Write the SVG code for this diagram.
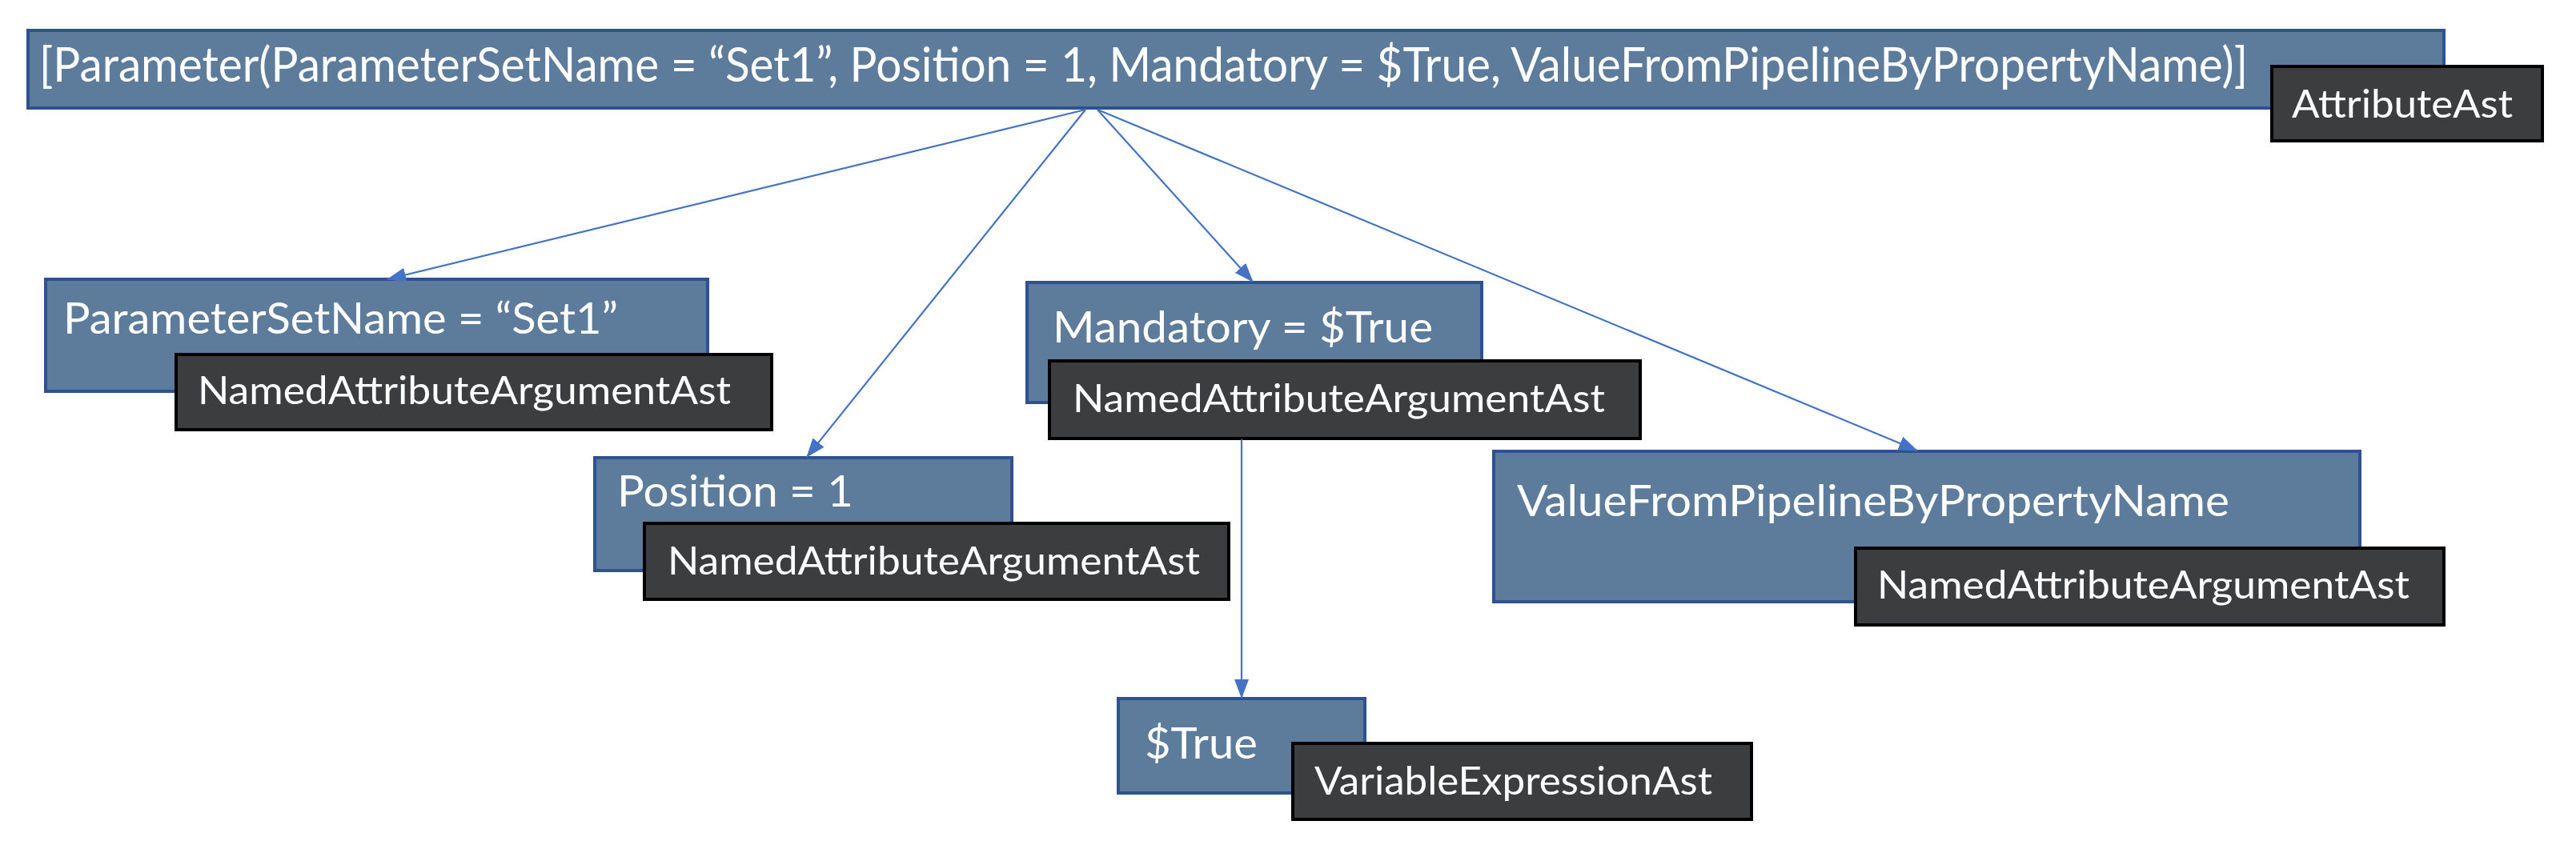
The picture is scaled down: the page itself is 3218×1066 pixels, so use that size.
<svg xmlns="http://www.w3.org/2000/svg" width="3218" height="1066" viewBox="0 0 3218 1066">
<style>
.box{fill:#5D7B9B;stroke:#2F528F;stroke-width:4}
.tag{fill:#3C3D3F;stroke:#000;stroke-width:4}
.t{font-family:Lato,"Open Sans","Liberation Sans",sans-serif;fill:#fff}
.big{font-size:60px}
.nt{font-size:55px}
.lt{font-size:49px}
.con{stroke:#4472C4;stroke-width:2.2;fill:none}
</style>
<defs>
<marker id="arr" markerUnits="userSpaceOnUse" markerWidth="24" markerHeight="18" refX="23" refY="9" orient="auto">
<path d="M0,0 L24,9 L0,18 z" fill="#4472C4"/>
</marker>
</defs>
<rect width="3218" height="1066" fill="#fff"/>
<g id="attribute">
<rect class="box" x="35" y="38" width="3018" height="97"/>
<text class="t big" x="49" y="102" textLength="2759" lengthAdjust="spacingAndGlyphs">[Parameter(ParameterSetName = “Set1”, Position = 1, Mandatory = $True, ValueFromPipelineByPropertyName)]</text>
<rect class="tag" x="2838" y="83" width="338" height="93"/>
<text class="t lt" x="2863" y="147" textLength="276" lengthAdjust="spacingAndGlyphs">AttributeAst</text>
</g>
<g id="paramsetname">
<rect class="box" x="57" y="349" width="827" height="140"/>
<text class="t nt" x="79" y="417" textLength="693" lengthAdjust="spacingAndGlyphs">ParameterSetName = “Set1”</text>
<rect class="tag" x="220" y="443" width="744" height="94"/>
<text class="t lt" x="247" y="505" textLength="666" lengthAdjust="spacingAndGlyphs">NamedAttributeArgumentAst</text>
</g>
<g id="position">
<rect class="box" x="743" y="572" width="521" height="141"/>
<text class="t nt" x="771" y="633" textLength="295" lengthAdjust="spacingAndGlyphs">Position = 1</text>
<rect class="tag" x="805" y="654" width="730" height="95"/>
<text class="t lt" x="834" y="718" textLength="665" lengthAdjust="spacingAndGlyphs">NamedAttributeArgumentAst</text>
</g>
<g id="mandatory">
<rect class="box" x="1283" y="353" width="568" height="150"/>
<text class="t nt" x="1315" y="428" textLength="475" lengthAdjust="spacingAndGlyphs">Mandatory = $True</text>
<rect class="tag" x="1311" y="451" width="738" height="97"/>
<text class="t lt" x="1340" y="515" textLength="665" lengthAdjust="spacingAndGlyphs">NamedAttributeArgumentAst</text>
</g>
<g id="valuefrompipeline">
<rect class="box" x="1866" y="564" width="1082" height="188"/>
<text class="t nt" x="1895" y="645" textLength="890" lengthAdjust="spacingAndGlyphs">ValueFromPipelineByPropertyName</text>
<rect class="tag" x="2318" y="685" width="735" height="96"/>
<text class="t lt" x="2345" y="748" textLength="665" lengthAdjust="spacingAndGlyphs">NamedAttributeArgumentAst</text>
</g>
<g id="true">
<rect class="box" x="1397" y="873" width="308" height="118"/>
<text class="t nt" x="1430" y="948" textLength="141" lengthAdjust="spacingAndGlyphs">$True</text>
<rect class="tag" x="1615" y="929" width="573" height="95"/>
<text class="t lt" x="1642" y="993" textLength="497" lengthAdjust="spacingAndGlyphs">VariableExpressionAst</text>
</g>
<g id="connectors">
<line class="con" x1="1356" y1="137" x2="484" y2="349" marker-end="url(#arr)"/>
<line class="con" x1="1356" y1="137" x2="1008" y2="571" marker-end="url(#arr)"/>
<line class="con" x1="1371" y1="137" x2="1565" y2="352" marker-end="url(#arr)"/>
<line class="con" x1="1371" y1="137" x2="2395" y2="563" marker-end="url(#arr)"/>
<line class="con" x1="1551" y1="549" x2="1551" y2="872" marker-end="url(#arr)"/>
</g>
</svg>
